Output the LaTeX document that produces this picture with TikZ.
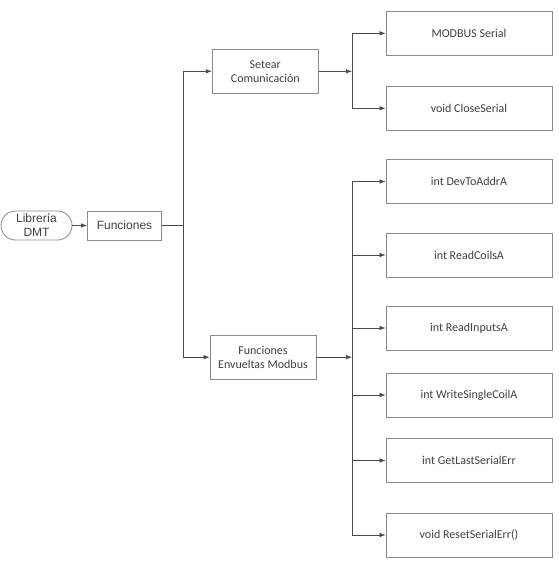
\documentclass[tikz,border=0pt]{standalone}
\usepackage{fontspec}
\setmainfont{Carlito}
\newfontfamily\arialfont{Liberation Sans}
\usetikzlibrary{arrows.meta}
\definecolor{boxgray}{HTML}{8A8A8A}
\definecolor{linegray}{HTML}{4A4A4A}
\definecolor{txtgray}{HTML}{3F3F3F}

\begin{document}
\begin{tikzpicture}[x=1pt, y=-1pt,
    every node/.style={font=\fontsize{12}{14}\selectfont, text=txtgray},
    box/.style={draw=boxgray, line width=0.8pt, align=center, inner sep=0pt},
    arial/.style={font=\arialfont\fontsize{12}{14}\selectfont},
    fn/.style={box, minimum width=166pt, minimum height=44pt},
    wire/.style={draw=linegray, line width=0.7pt},
    link/.style={wire, -{Latex[length=6pt,width=4.5pt]}}
]
\useasboundingbox (0,0) rectangle (559,581);
    \node[box, arial, rounded corners=14.5pt, minimum width=71pt, minimum height=29pt] (L) at (36.5,225.5) {Librería\\DMT};
    \node[box, arial, minimum width=74pt, minimum height=29pt] (F) at (124.5,225.5) {Funciones};
    \node[box, minimum width=106pt, minimum height=44pt] (S) at (265.3,71.3) {Setear\\Comunicación};
    \node[box, minimum width=106pt, minimum height=44pt] (E) at (263,357.2) {Funciones\\Envueltas Modbus};
    \node[fn] (m1) at (469,33.3) {MODBUS Serial};
    \node[fn] (m2) at (469,108.3) {void CloseSerial};
\foreach \n/\y/\txt in {f1/181.5/int DevToAddrA, f2/255/int ReadCoilsA,
    f3/328/int ReadInputsA, f4/395/int WriteSingleCoilA,
    f5/460.5/int GetLastSerialErr, f6/535/{void ResetSerialErr()}}
    \node[fn] (\n) at (469,\y) {\txt};
\coordinate (t) at (183,225.5);
\coordinate (b1) at (352,71.3);
\coordinate (b2) at (352,357.2);
\draw[link] (L) -- (F);
\draw[wire] (F.east) -- (t);
\draw[link] (t) |- (S.west);
\draw[link] (t) |- (E.west);
\draw[link] (S.east) -- (b1);
\draw[link] (E.east) -- (b2);
\foreach \n in {m1,m2}
    \draw[link] (b1) |- (\n.west);
\foreach \n in {f1,f2,f3,f4,f5,f6}
    \draw[link] (b2) |- (\n.west);
\end{tikzpicture}
\end{document}
